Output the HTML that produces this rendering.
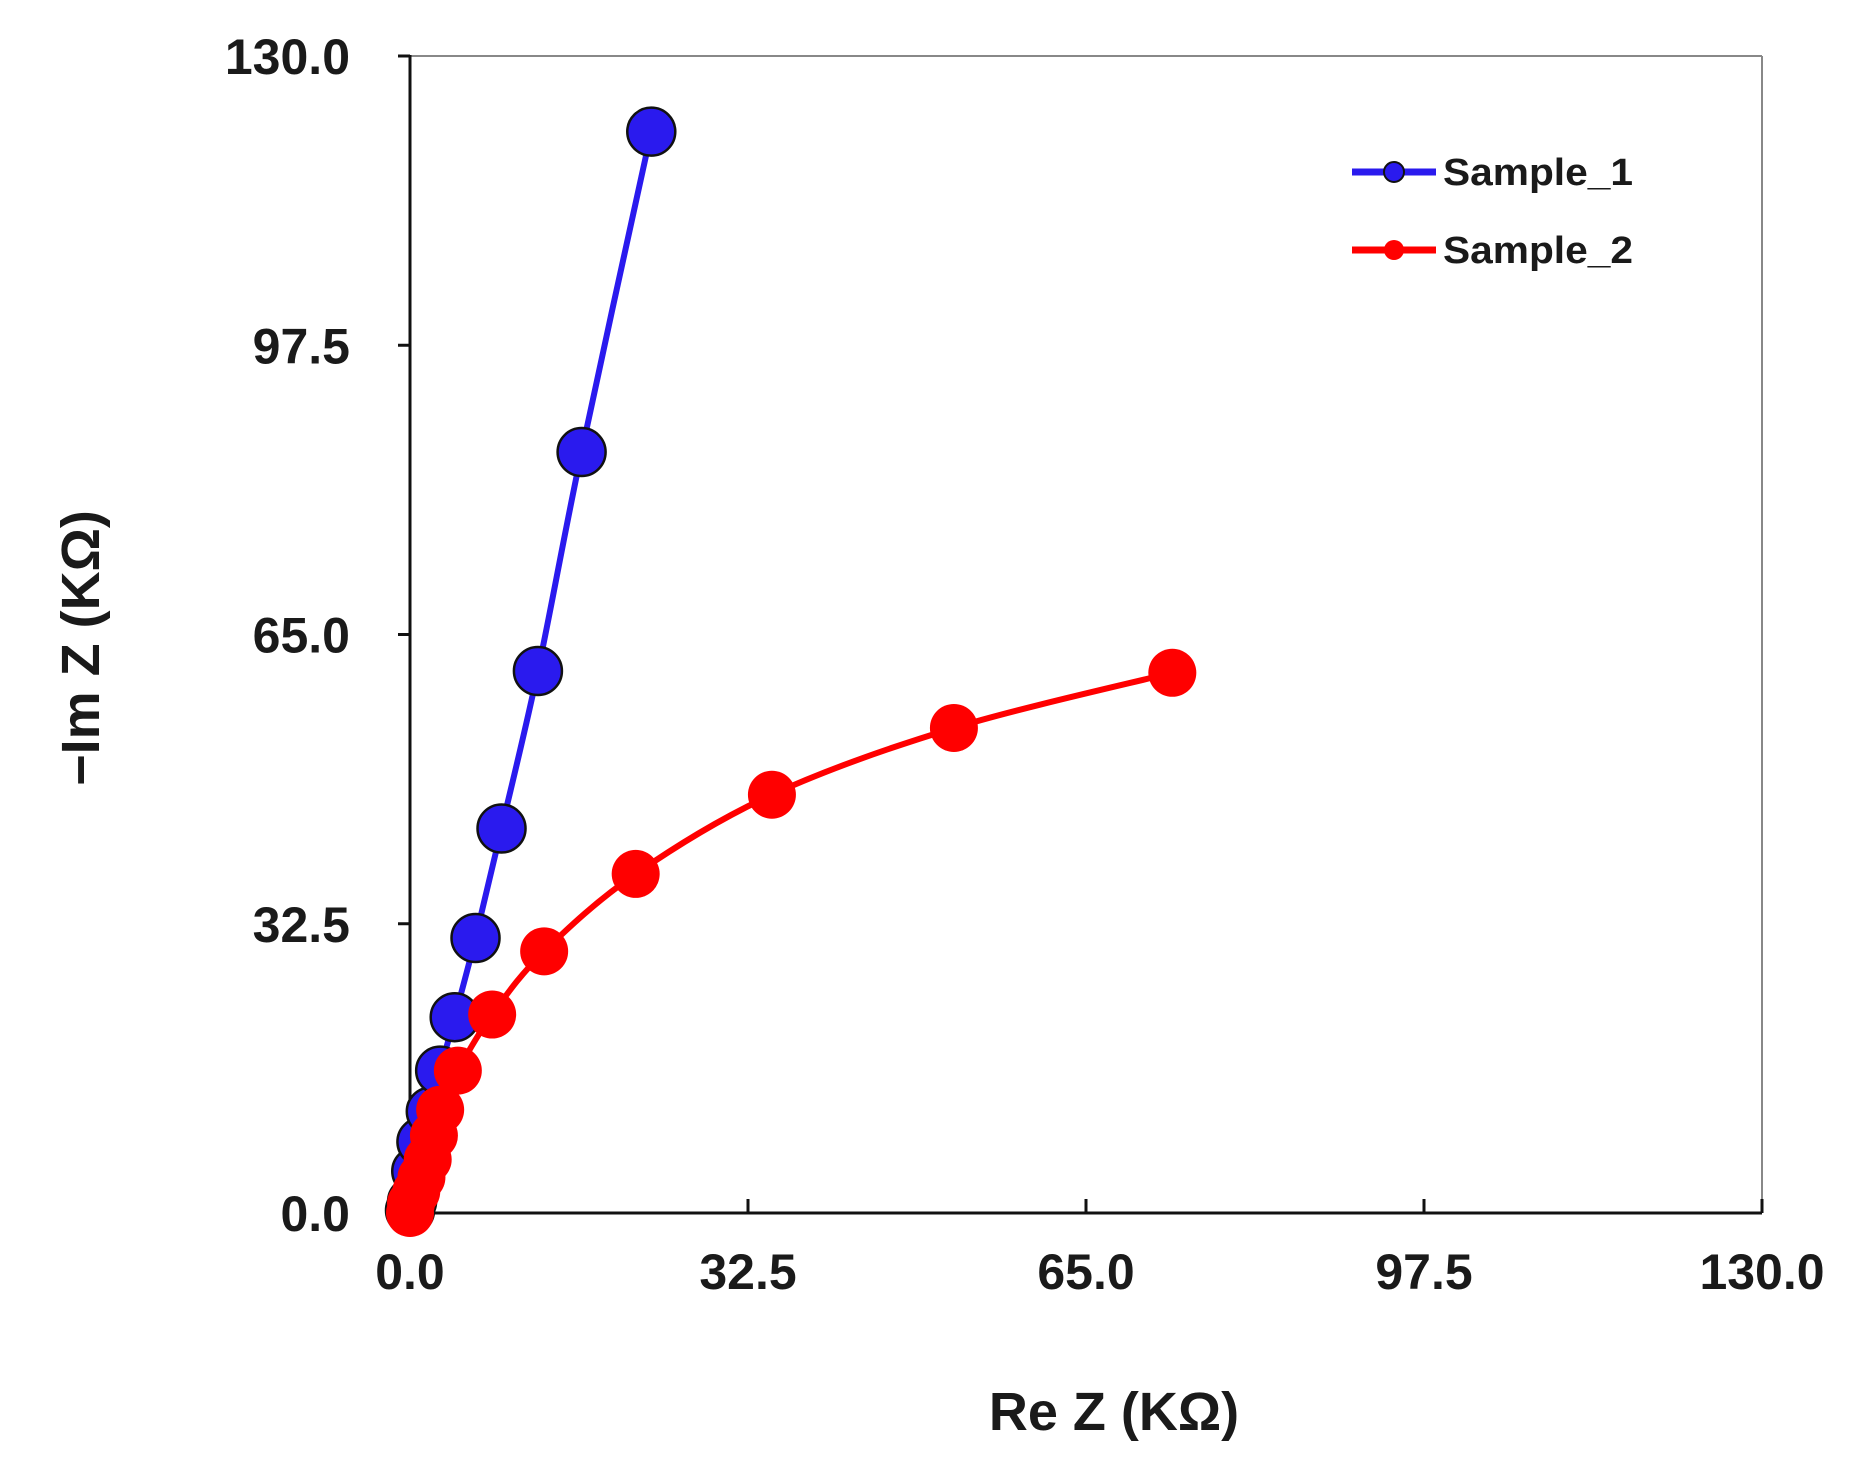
<!DOCTYPE html>
<html><head><meta charset="utf-8"><style>
html,body{margin:0;padding:0;background:#fff;}
svg{display:block;}
text{font-family:"Liberation Sans",sans-serif;font-weight:bold;fill:#1a1a1a;}
</style></head><body>
<svg id="chart" width="1864" height="1480" viewBox="0 0 1864 1480" xmlns="http://www.w3.org/2000/svg"></svg>
<script>
const xTicks = [0, 32.5, 65, 97.5, 130];
const yTicks = [0, 32.5, 65, 97.5, 130];
const tickLabels = ["0.0", "32.5", "65.0", "97.5", "130.0"];
const s1Re = [0, 0.2, 0.6, 1.1, 2.0, 2.9, 4.3, 6.3, 8.8, 12.3, 16.5, 23.2];
const s1Im = [0.3, 1.3, 4.7, 8.0, 11.4, 16.0, 22.0, 30.9, 43.2, 60.9, 85.5, 121.5];
const s2Re = [0, 0.1, 0.6, 1.1, 1.7, 2.3, 2.9, 4.6, 7.9, 12.9, 21.7, 34.8, 52.3, 73.3];
const s2Im = [0, 1.1, 2.4, 4.0, 6.0, 8.7, 11.6, 16.0, 22.3, 29.4, 38.1, 47.0, 54.5, 60.7];

const L = 410, R = 1762, T = 56, B = 1213;
const X = v => L + v / 130 * (R - L);
const Y = v => B - v / 130 * (B - T);
const NS = "http://www.w3.org/2000/svg";
const svg = document.getElementById('chart');
function mk(tag, attrs, parent) {
  const e = document.createElementNS(NS, tag);
  for (const k in attrs) e.setAttribute(k, attrs[k]);
  (parent || svg).appendChild(e);
  return e;
}
let e = mk('line', {x1: L, y1: T, x2: R, y2: T, stroke: '#888', 'stroke-width': 2});


e = mk('line', {x1: R, y1: T, x2: R, y2: B, stroke: '#888', 'stroke-width': 2});


e = mk('line', {x1: L, y1: T - 1, x2: L, y2: B + 1, stroke: '#111', 'stroke-width': 3});


e = mk('line', {x1: L, y1: B, x2: R, y2: B, stroke: '#111', 'stroke-width': 3});



xTicks.forEach((v, i) => {
  const t = mk('line', {x1: X(v), y1: B, x2: X(v), y2: B - 14, stroke: '#111', 'stroke-width': 3});
  
  
  const lb = mk('text', {x: X(v), y: B + 76, 'text-anchor': 'middle', 'font-size': 50});
  lb.textContent = tickLabels[i];
  
  
});
yTicks.forEach((v, i) => {
  const t = mk('line', {x1: L - 12, y1: Y(v), x2: L, y2: Y(v), stroke: '#111', 'stroke-width': 3});
  
  
  const lb = mk('text', {x: 350, y: Y(v) + 18, 'text-anchor': 'end', 'font-size': 50});
  lb.textContent = tickLabels[i];
  
  
});
e = mk('text', {x: 1114, y: 1430, 'text-anchor': 'middle', 'font-size': 54});
e.textContent = 'Re Z (KΩ)';


e = mk('text', {x: 0, y: 0, 'text-anchor': 'middle', 'font-size': 54, transform: 'translate(99,648) rotate(-90)'});
e.textContent = '−Im Z (KΩ)';



function smoothPath(xs, ys) {
  const p = xs.map((v, i) => [X(v), Y(ys[i])]);
  let d = `M${p[0][0]},${p[0][1]}`;
  for (let i = 0; i < p.length - 1; i++) {
    const p0 = p[i - 1] || p[i], p1 = p[i], p2 = p[i + 1], p3 = p[i + 2] || p2;
    const c1 = [p1[0] + (p2[0] - p0[0]) / 6, p1[1] + (p2[1] - p0[1]) / 6];
    const c2 = [p2[0] - (p3[0] - p1[0]) / 6, p2[1] - (p3[1] - p1[1]) / 6];
    d += ` C${c1[0]},${c1[1]} ${c2[0]},${c2[1]} ${p2[0]},${p2[1]}`;
  }
  return d;
}
e = mk('path', {d: smoothPath(s1Re, s1Im), fill: 'none', stroke: '#2a1aee', 'stroke-width': 6});


s1Re.forEach((v, i) => {
  const c = mk('circle', {cx: X(v), cy: Y(s1Im[i]), r: 24, fill: '#2a1aee', stroke: '#111', 'stroke-width': 2.5});
  
  
});
e = mk('path', {d: smoothPath(s2Re, s2Im), fill: 'none', stroke: '#ff0000', 'stroke-width': 6});


s2Re.forEach((v, i) => {
  const c = mk('circle', {cx: X(v), cy: Y(s2Im[i]), r: 24, fill: '#ff0000'});
  
  
});
const lg = mk('g', {});


[['Sample_1', '#2a1aee', 172, '#111'], ['Sample_2', '#ff0000', 250, 'none']].forEach(([name, col, y, st]) => {
  const g = mk('g', {}, lg);
  
  
  mk('line', {x1: 1352, y1: y, x2: 1436, y2: y, stroke: col, 'stroke-width': 7}, g);
  mk('circle', {cx: 1394, cy: y, r: 10, fill: col, stroke: st, 'stroke-width': 2}, g);
  const t = mk('text', {x: 1443, y: y + 13, 'font-size': 38, textLength: 190, lengthAdjust: 'spacingAndGlyphs'}, g);
  t.textContent = name;
});
</script>
</body></html>
